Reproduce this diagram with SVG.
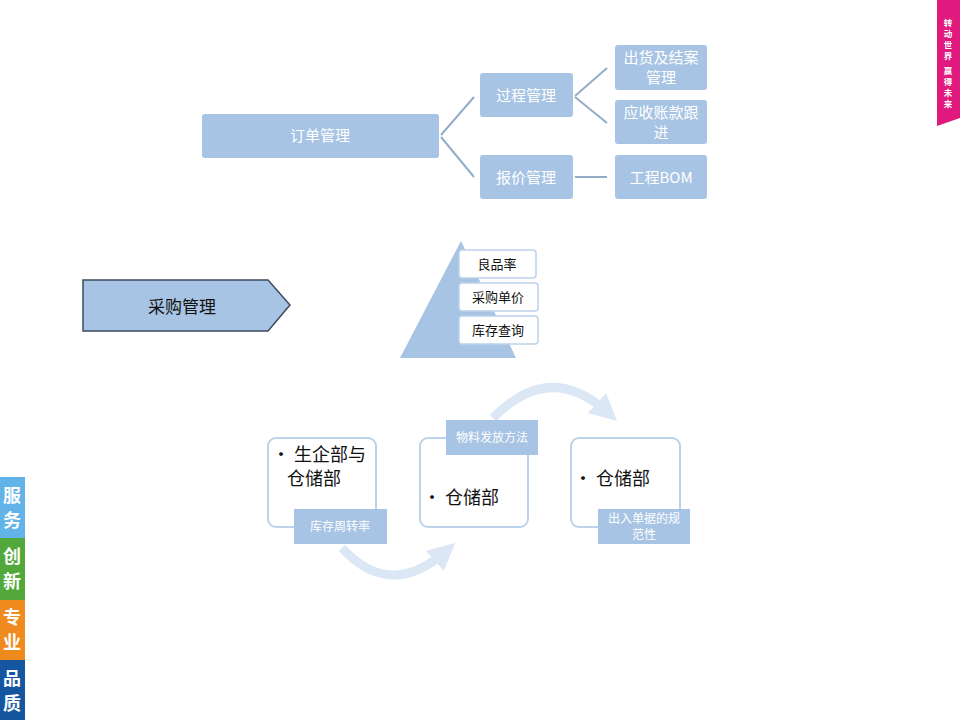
<svg xmlns="http://www.w3.org/2000/svg" width="960" height="720" viewBox="0 0 960 720">
<defs>
<style>
.n{fill:#a7c4e4}
.wt{fill:#fff;font-family:"Noto Sans CJK SC","Liberation Sans",sans-serif;text-anchor:middle}
.bt{fill:#111;font-family:"Noto Sans CJK SC",serif}
.card{fill:#fff;stroke:#bcd2ea;stroke-width:2}
.pb{fill:#fff;stroke:#bcd2ea;stroke-width:1.5}
.conn{stroke:#93adc8;stroke-width:2;fill:none}
.arc{fill:none;stroke:#dbe7f4;stroke-width:9}
.side{fill:#fff;font-family:"Noto Sans CJK SC",sans-serif;font-weight:bold;font-size:18px;text-anchor:middle}
.pk{fill:#fff;font-family:"Noto Sans CJK SC",sans-serif;font-weight:bold;font-size:8.5px;text-anchor:middle}
</style>
<marker id="ah" viewBox="0 0 10 10" refX="5" refY="5" markerWidth="3" markerHeight="3" orient="auto"><path d="M0,0 L10,5 L0,10 z" fill="#dbe7f4"/></marker>
</defs>
<rect width="960" height="720" fill="#fff"/>

<g id="connectors">
<path class="conn" d="M441,135 L474,97 M441,137 L474,177 M575,96 L607,68 M575,97 L607,123 M575,177 L607,177"/>
<path class="arc" d="M342,548 Q390,600 445,552" marker-end="url(#ah)"/>
<path class="arc" d="M493,418 Q550,360 607,412" marker-end="url(#ah)"/>
</g>

<g id="n-order"><rect class="n" x="202" y="114" width="237" height="44" rx="3"/><text class="wt" x="320" y="141" font-size="15">订单管理</text></g>
<g id="n-process"><rect class="n" x="480" y="73" width="93" height="44" rx="3"/><text class="wt" x="526" y="101" font-size="15">过程管理</text></g>
<g id="n-quote"><rect class="n" x="480" y="155" width="93" height="44" rx="3"/><text class="wt" x="526" y="183" font-size="15">报价管理</text></g>
<g id="n-ship"><rect class="n" x="615" y="45" width="92" height="45" rx="3"/><text class="wt" x="661" y="63" font-size="15">出货及结案</text><text class="wt" x="661" y="83" font-size="15">管理</text></g>
<g id="n-ar"><rect class="n" x="615" y="100" width="92" height="44" rx="3"/><text class="wt" x="661" y="118" font-size="15">应收账款跟</text><text class="wt" x="661" y="138" font-size="15">进</text></g>
<g id="n-bom"><rect class="n" x="615" y="155" width="92" height="44" rx="3"/><text class="wt" x="661" y="183" font-size="15">工程BOM</text></g>

<g id="n-purchase"><path d="M83,280 L268,280 L290,305 L268,331 L83,331 Z" fill="#a7c4e4" stroke="#3e4b5c" stroke-width="1.5"/><text x="182" y="313" font-size="17" fill="#111" font-family="Noto Sans CJK SC,sans-serif" text-anchor="middle">采购管理</text></g>

<g id="n-pyramid">
<path d="M461,241 L516,358 L400,358 Z" fill="#a7c4e4"/>
<rect class="pb" x="459" y="250" width="77" height="28" rx="3"/><text x="497" y="269" font-size="13" fill="#111" font-family="Noto Sans CJK SC,sans-serif" text-anchor="middle">良品率</text>
<rect class="pb" x="459" y="283" width="79" height="28" rx="3"/><text x="498" y="302" font-size="13" fill="#111" font-family="Noto Sans CJK SC,sans-serif" text-anchor="middle">采购单价</text>
<rect class="pb" x="459" y="316" width="79" height="28" rx="3"/><text x="498" y="335" font-size="13" fill="#111" font-family="Noto Sans CJK SC,sans-serif" text-anchor="middle">库存查询</text>
</g>

<g id="n-step1"><rect class="card" x="268" y="438" width="108" height="89" rx="8"/><text class="bt" font-size="18"><tspan x="272" y="461">• 生企部与</tspan><tspan x="287" y="485">仓储部</tspan></text>
<rect class="n" x="294" y="509" width="93" height="35"/><text class="wt" x="340" y="531" font-size="12">库存周转率</text></g>
<g id="n-step2"><rect class="card" x="420" y="438" width="108" height="89" rx="8"/><text class="bt" font-size="18" x="423" y="504">• 仓储部</text>
<rect class="n" x="446" y="420" width="92" height="35"/><text class="wt" x="492" y="442" font-size="12">物料发放方法</text></g>
<g id="n-step3"><rect class="card" x="571" y="438" width="109" height="89" rx="8"/><text class="bt" font-size="18" x="574" y="485">• 仓储部</text>
<rect class="n" x="598" y="509" width="92" height="35"/><text class="wt" x="644" y="523" font-size="12">出入单据的规</text><text class="wt" x="644" y="539" font-size="12">范性</text></g>

<g id="deco-right"><path d="M937,0 L960,0 L960,118 L937,126 Z" fill="#e0197f"/>
<text class="pk" x="948" y="26">转</text><text class="pk" x="948" y="37">动</text><text class="pk" x="948" y="48">世</text><text class="pk" x="948" y="59">界</text>
<text class="pk" x="948" y="74">赢</text><text class="pk" x="948" y="85">得</text><text class="pk" x="948" y="96">未</text><text class="pk" x="948" y="107">来</text></g>
<g id="deco-left">
<rect x="0" y="477" width="25" height="61" fill="#62b3e8"/><text class="side" x="12" y="502">服</text><text class="side" x="12" y="527">务</text>
<rect x="0" y="538" width="25" height="62" fill="#52a83a"/><text class="side" x="12" y="563">创</text><text class="side" x="12" y="588">新</text>
<rect x="0" y="600" width="25" height="60" fill="#ef8a1e"/><text class="side" x="12" y="624">专</text><text class="side" x="12" y="649">业</text>
<rect x="0" y="660" width="25" height="60" fill="#1457a0"/><text class="side" x="12" y="685">品</text><text class="side" x="12" y="710">质</text>
</g>
</svg>
